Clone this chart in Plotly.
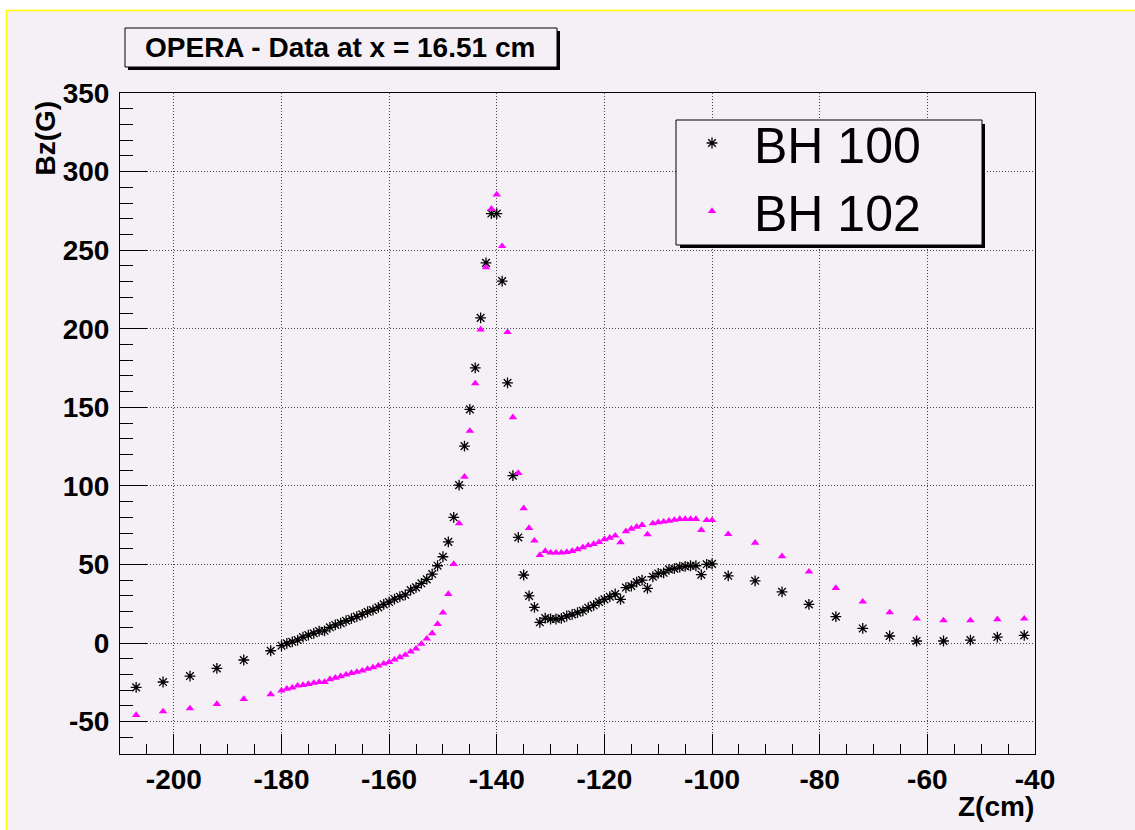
import plotly.graph_objects as go

# ---------------- data ----------------
z_cm = [-207, -202, -197, -192, -187, -182,
        -180, -179, -178, -177, -176, -175, -174, -173, -172, -171,
        -170, -169, -168, -167, -166, -165, -164, -163, -162, -161,
        -160, -159, -158, -157, -156, -155, -154, -153, -152, -151,
        -150, -149, -148, -147, -146, -145, -144, -143, -142, -141,
        -140, -139, -138, -137, -136, -135, -134, -133, -132, -131,
        -130, -129, -128, -127, -126, -125, -124, -123, -122, -121,
        -120, -119, -118, -117, -116, -115, -114, -113, -112, -111,
        -110, -109, -108, -107, -106, -105, -104, -103, -102, -101,
        -100,
        -97, -92, -87, -82, -77, -72, -67, -62, -57, -52, -47, -42]

bh100 = [-28.2, -24.8, -21.0, -16.1, -10.8, -4.9,
         -1.7, -0.2, 0.8, 1.9, 3.8, 5.1, 6.2, 7.6, 7.8, 10.0,
         11.5, 12.7, 14.2, 15.5, 16.8, 18.3, 19.9, 21.0, 22.7, 24.6,
         26.1, 28.0, 29.5, 30.7, 33.7, 35.4, 38.0, 40.5, 43.9, 49.2,
         54.9, 64.4, 80.0, 100.5, 125.3, 148.7, 175.1, 206.9, 241.9, 273.3,
         273.3, 230.3, 165.6, 106.5, 67.2, 43.3, 30.0, 22.7, 13.2, 15.9,
         15.3, 15.3, 15.7, 17.2, 18.2, 19.3, 20.5, 22.5, 24.0, 26.1,
         27.8, 29.5, 31.2, 27.8, 35.3, 36.3, 38.8, 40.1, 34.8, 42.2,
         44.3, 44.7, 46.9, 47.3, 48.3, 48.8, 49.2, 49.2, 43.5, 50.1,
         50.4,
         42.8, 39.6, 32.6, 24.6, 16.8, 9.3, 4.5, 1.3, 1.3, 1.9, 3.8, 4.9]

bh102 = [-45.8, -43.5, -41.6, -38.8, -35.6, -32.6,
         -30.3, -29.1, -28.4, -27.1, -26.7, -26.1, -25.4, -24.8, -24.8, -23.1,
         -22.1, -21.2, -20.1, -19.1, -18.4, -17.6, -16.5, -15.5, -14.4, -13.1,
         -12.1, -10.6, -9.1, -7.6, -5.5, -3.6, -0.6, 2.8, 6.2, 12.1,
         19.3, 31.2, 50.3, 76.1, 105.8, 135.0, 165.2, 199.5, 239.0, 276.3,
         285.4, 252.5, 197.8, 143.6, 108.2, 85.7, 73.2, 65.1, 56.0, 58.5,
         57.5, 57.5, 57.5, 57.9, 58.5, 59.6, 60.9, 62.1, 63.0, 64.2,
         66.0, 67.0, 68.3, 64.1, 71.1, 72.7, 74.0, 75.1, 69.1, 76.1,
         76.8, 77.2, 77.8, 78.3, 78.9, 78.9, 78.9, 78.9, 71.9, 78.2,
         78.2,
         69.3, 63.8, 55.2, 45.4, 35.0, 26.3, 19.5, 15.5, 14.4, 14.4, 15.1, 15.5]

series_names = ["BH 100", "BH 102"]
title_text = "OPERA - Data at x = 16.51 cm"
x_title = "Z(cm)"
y_title = "Bz(G)"

x_tick_vals = [-200, -180, -160, -140, -120, -100, -80, -60, -40]
x_tick_text = ["-200", "-180", "-160", "-140", "-120", "-100", "-80", "-60", "-40"]
y_tick_vals = [-50, 0, 50, 100, 150, 200, 250, 300, 350]
y_tick_text = ["-50", "0", "50", "100", "150", "200", "250", "300", "350"]

# ---------------- layout geometry ----------------
W, H = 1135, 830
L, R, T, B = 120, 1035, 93, 754
BG = "#F5F0F5"
FONT = "Liberation Sans, Arial, Helvetica, sans-serif"


def fx(px):
    return (px - L) / (R - L)


def fy(py):
    return (B - py) / (B - T)


fig = go.Figure()
fig.add_trace(go.Scatter(
    x=z_cm, y=bh100, mode="markers", name=series_names[0],
    marker=dict(symbol="asterisk-open", size=9, color="black",
                line=dict(color="black", width=1.3))))
fig.add_trace(go.Scatter(
    x=z_cm, y=bh102, mode="markers", name=series_names[1],
    marker=dict(symbol="triangle-up", size=7.5, color="#FF00FF",
                line=dict(width=0))))

axis_common = dict(
    showline=True, linecolor="black", linewidth=1, mirror=True,
    ticks="inside", tickcolor="black", tickwidth=1,
    showgrid=True, gridcolor="#444444", griddash="1px,2px", gridwidth=1,
    zeroline=False,
    tickfont=dict(family=FONT, size=28, color="black", weight="bold"),
)

fig.update_xaxes(range=[-210, -40], tickmode="array", tickvals=x_tick_vals, ticktext=x_tick_text,
                 ticklen=20,
                 minor=dict(dtick=5, tick0=0, ticklen=10, tickcolor="black", ticks="inside", showgrid=False),
                 **axis_common)
fig.update_yaxes(range=[-70.6, 350], tickmode="array", tickvals=y_tick_vals, ticktext=y_tick_text,
                 ticklen=27, ticklabelstandoff=4,
                 minor=dict(dtick=10, tick0=0, ticklen=13, tickcolor="black", ticks="inside", showgrid=False),
                 **axis_common)

shapes = [
    # canvas with yellow border
    dict(type="rect", xref="paper", yref="paper", layer="below",
         x0=fx(6.5), x1=fx(1150), y0=fy(850), y1=fy(10.5),
         fillcolor=BG, line=dict(color="#FFFF00", width=1.5)),
    # title shadow + box
    dict(type="rect", xref="paper", yref="paper", layer="above",
         x0=fx(128), x1=fx(560), y0=fy(70), y1=fy(31),
         fillcolor="black", line=dict(width=0)),
    dict(type="rect", xref="paper", yref="paper", layer="above",
         x0=fx(125), x1=fx(557), y0=fy(67), y1=fy(28),
         fillcolor=BG, line=dict(color="black", width=1)),
    # legend shadow + box
    dict(type="rect", xref="paper", yref="paper", layer="above",
         x0=fx(680), x1=fx(985), y0=fy(248), y1=fy(124),
         fillcolor="black", line=dict(width=0)),
    dict(type="rect", xref="paper", yref="paper", layer="above",
         x0=fx(676), x1=fx(982), y0=fy(245), y1=fy(120),
         fillcolor=BG, line=dict(color="black", width=1)),
]

annotations = [
    dict(text=title_text, xref="paper", yref="paper", x=fx(340), y=fy(47.5),
         xanchor="center", yanchor="middle", showarrow=False,
         font=dict(family=FONT, size=28, color="black", weight="bold")),
    dict(text=x_title, xref="paper", yref="paper", x=fx(1036), y=fy(806),
         xanchor="right", yanchor="middle", showarrow=False,
         font=dict(family=FONT, size=28, color="black", weight="bold")),
    dict(text=y_title, xref="paper", yref="paper", x=fx(45), y=fy(99),
         xanchor="center", yanchor="top", showarrow=False, textangle=-90,
         font=dict(family=FONT, size=28, color="black", weight="bold")),
]

fig.update_layout(
    width=W, height=H,
    margin=dict(l=L, r=W - R, t=T, b=H - B, pad=0),
    paper_bgcolor="white", plot_bgcolor=BG,
    shapes=shapes, annotations=annotations,
    showlegend=True,
    legend=dict(x=fx(670), y=fy(104), xanchor="left", yanchor="top",
                bgcolor="rgba(0,0,0,0)", borderwidth=0, itemwidth=74,
                tracegroupgap=0,
                font=dict(family=FONT, size=50, color="black")),
)

fig.write_html("out.html")
